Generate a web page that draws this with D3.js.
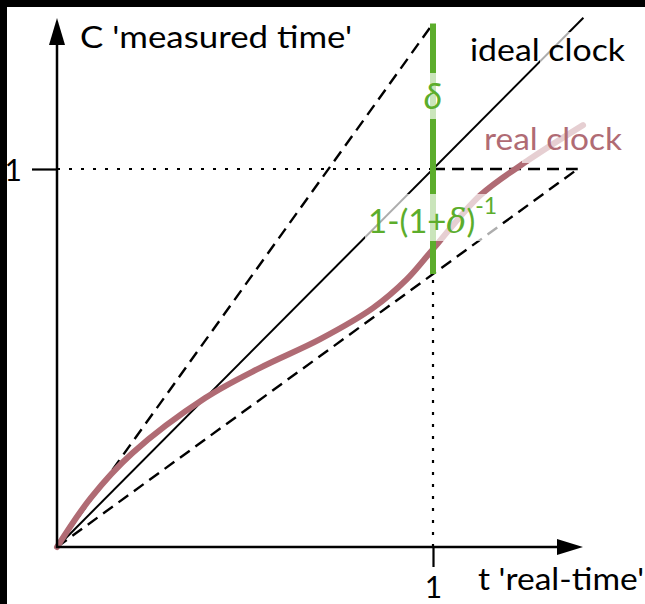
<!DOCTYPE html>
<html>
<head>
<meta charset="utf-8">
<script src="https://cdn.jsdelivr.net/npm/d3@7/dist/d3.min.js"></script>
<style>
  html, body { margin: 0; padding: 0; background: #000; }
  svg { display: block; }
  text { font-family: Lato, "Open Sans", sans-serif; }
</style>
</head>
<body>
<svg id="chart" width="645" height="604"></svg>
<script>
// Clock drift bounds: a real clock stays between slopes 1/(1+δ) and (1+δ)
const delta = 0.385;
const tMax = 1.4;
const xTicks = [1];
const yTicks = [1];

// Real clock reading C(t)
const realT = [0, 0.09, 0.20, 0.394, 0.54, 0.70, 0.84, 0.93, 1.0, 1.125, 1.25, 1.399];
const realC = [0, 0.13, 0.248, 0.394, 0.474, 0.550, 0.632, 0.708, 0.788, 0.93, 1.021, 1.116];

const axisLabelY = "C 'measured time'";
const axisLabelX = "t 'real-time'";
const idealLabel = "ideal clock";
const realLabel = "real clock";

const green = "#5cad2c";
const mauve = "#b06b74";

const svg = d3.select("#chart");
svg.append("rect").attr("x", 7).attr("y", 7).attr("width", 645).attr("height", 604).attr("fill", "#fff");

const x = d3.scaleLinear().domain([0, 1]).range([57, 433]);
const y = d3.scaleLinear().domain([0, 1]).range([547, 169]);

const line = d3.line().x(d => x(d[0])).y(d => y(d[1]));

// Guide lines at t = 1 and C = 1
svg.append("path")
  .attr("d", line([[0, 1], [1, 1]]))
  .attr("stroke", "#000").attr("stroke-width", 2.2).attr("stroke-dasharray", "3,9").attr("fill", "none");
svg.append("path")
  .attr("d", line([[1, 0], [1, 1 / (1 + delta)]]))
  .attr("stroke", "#000").attr("stroke-width", 2.2).attr("stroke-dasharray", "3,9").attr("fill", "none");
svg.append("path")
  .attr("d", line([[1, 1], [1 + delta, 1]]))
  .attr("stroke", "#000").attr("stroke-width", 2.4).attr("stroke-dasharray", "12,7").attr("fill", "none");

// Bounding slopes
svg.append("path")
  .attr("d", line([[0, 0], [1, 1 + delta]]))
  .attr("stroke", "#000").attr("stroke-width", 2.4).attr("stroke-dasharray", "12,7").attr("fill", "none");
svg.append("path")
  .attr("d", line([[0, 0], [1 + delta, 1]]))
  .attr("stroke", "#000").attr("stroke-width", 2.4).attr("stroke-dasharray", "12,7").attr("fill", "none");

// Ideal clock C = t
svg.append("path")
  .attr("d", line([[0, 0], [tMax, tMax]]))
  .attr("stroke", "#000").attr("stroke-width", 2).attr("fill", "none");

// Real clock
const realLine = d3.line().x(d => x(d[0])).y(d => y(d[1])).curve(d3.curveCatmullRom.alpha(0.5));
svg.append("path")
  .attr("d", realLine(realT.map((t, i) => [t, realC[i]])))
  .attr("stroke", mauve).attr("stroke-width", 6).attr("fill", "none").attr("stroke-linecap", "round");

// Drift interval at t = 1
svg.append("path")
  .attr("d", line([[1, 1 / (1 + delta)], [1, 1 + delta]]))
  .attr("stroke", green).attr("stroke-width", 6).attr("fill", "none");

// Axes with single ticks
const yAxis = svg.append("g")
  .attr("transform", `translate(${x(0)},0)`)
  .call(d3.axisLeft(y).tickValues(yTicks).tickSize(25).tickPadding(10).tickFormat(d3.format("d")));
const xAxis = svg.append("g")
  .attr("transform", `translate(0,${y(0)})`)
  .call(d3.axisBottom(x).tickValues(xTicks).tickSize(20).tickPadding(10).tickFormat(d3.format("d")));
[yAxis, xAxis].forEach(g => {
  g.select(".domain").remove();
  g.selectAll(".tick line").attr("stroke", "#000").attr("stroke-width", 2.2);
  g.selectAll(".tick text").attr("font-size", 30).attr("fill", "#000")
    .attr("font-family", "Lato, 'Open Sans', sans-serif");
});
yAxis.selectAll(".tick text").attr("dy", "0.38em");

// Axis lines with arrow heads
const x0 = x(0), y0 = y(0);
svg.append("line").attr("x1", x0).attr("y1", y0 + 1).attr("x2", x0).attr("y2", 42)
  .attr("stroke", "#000").attr("stroke-width", 2.5);
svg.append("path").attr("d", `M${x0},18 L${x0 - 8},45 L${x0 + 8},45 Z`).attr("fill", "#000");
svg.append("line").attr("x1", x0 - 1).attr("y1", y0).attr("x2", 560).attr("y2", y0)
  .attr("stroke", "#000").attr("stroke-width", 2.5);
svg.append("path").attr("d", `M583,${y0} L557,${y0 - 8} L557,${y0 + 8} Z`).attr("fill", "#000");

// Labels, each on a translucent white backing
function label(node, pad) {
  const b = node.getBBox();
  d3.select(node.parentNode).insert("rect", () => node)
    .attr("x", b.x - pad[3]).attr("y", b.y - pad[0])
    .attr("width", b.width + pad[1] + pad[3]).attr("height", b.height + pad[0] + pad[2])
    .attr("fill", "#fff").attr("opacity", 0.68);
}

svg.append("text").attr("x", 80).attr("y", 48).attr("font-size", 30)
  .attr("textLength", 272).attr("lengthAdjust", "spacingAndGlyphs").text(axisLabelY);
svg.append("text").attr("x", 478).attr("y", 590).attr("font-size", 30)
  .attr("textLength", 166).attr("lengthAdjust", "spacingAndGlyphs").text(axisLabelX);

const gIdeal = svg.append("g");
const tIdeal = gIdeal.append("text").attr("x", 470).attr("y", 61).attr("font-size", 31)
  .attr("textLength", 155).attr("lengthAdjust", "spacingAndGlyphs").text(idealLabel);
label(tIdeal.node(), [-2, 0, -3, -70]);

const gReal = svg.append("g");
const tReal = gReal.append("text").attr("x", 484).attr("y", 150).attr("font-size", 31)
  .attr("fill", mauve).attr("textLength", 138).attr("lengthAdjust", "spacingAndGlyphs").text(realLabel);
label(tReal.node(), [0, 3, 6, -38]);

const gDelta = svg.append("g");
const tDelta = gDelta.append("text").attr("x", x(1)).attr("y", 109).attr("font-size", 36)
  .attr("font-family", "'DejaVu Serif', serif")
  .attr("font-style", "italic").attr("text-anchor", "middle").attr("fill", green).text("δ");
label(tDelta.node(), [0, 3, 2, 3]);

const gDrift = svg.append("g");
const tDrift = gDrift.append("text").attr("x", 368).attr("y", 233).attr("font-size", 33).attr("fill", green);
tDrift.append("tspan").text("1-(1+");
tDrift.append("tspan").attr("font-style", "italic").attr("font-family", "'DejaVu Serif', serif").text("δ");
tDrift.append("tspan").text(")");
tDrift.append("tspan").attr("dy", -19).attr("font-size", 23).text("-1");
label(tDrift.node(), [-3, 3, 0, 3]);
</script>
</body>
</html>
